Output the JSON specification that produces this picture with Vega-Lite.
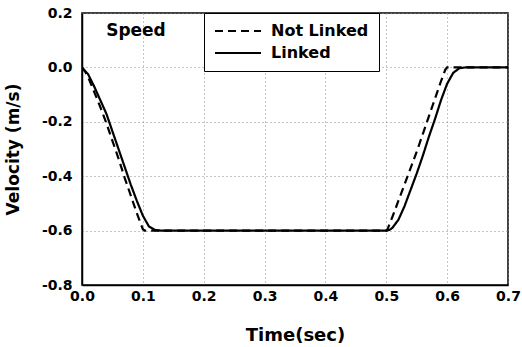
{
  "$schema": "https://vega.github.io/schema/vega-lite/v6.json",
  "width": 426,
  "height": 272,
  "autosize": "none",
  "padding": {"left": 82, "top": 13, "right": 14, "bottom": 62},
  "background": "white",
  "config": {
    "view": {"stroke": "black", "strokeWidth": 1.5},
    "font": "DejaVu Sans"
  },
  "layer": [
    {
      "data": {
        "values": [
          {"t": 0, "v": 0, "series": "Not Linked"},
          {"t": 0.005, "v": -0.015, "series": "Not Linked"},
          {"t": 0.01, "v": -0.035, "series": "Not Linked"},
          {"t": 0.02, "v": -0.09, "series": "Not Linked"},
          {"t": 0.03, "v": -0.145, "series": "Not Linked"},
          {"t": 0.04, "v": -0.205, "series": "Not Linked"},
          {"t": 0.05, "v": -0.27, "series": "Not Linked"},
          {"t": 0.06, "v": -0.335, "series": "Not Linked"},
          {"t": 0.07, "v": -0.405, "series": "Not Linked"},
          {"t": 0.08, "v": -0.47, "series": "Not Linked"},
          {"t": 0.09, "v": -0.535, "series": "Not Linked"},
          {"t": 0.1, "v": -0.595, "series": "Not Linked"},
          {"t": 0.103, "v": -0.6, "series": "Not Linked"},
          {"t": 0.2, "v": -0.6, "series": "Not Linked"},
          {"t": 0.3, "v": -0.6, "series": "Not Linked"},
          {"t": 0.4, "v": -0.6, "series": "Not Linked"},
          {"t": 0.5, "v": -0.6, "series": "Not Linked"},
          {"t": 0.502, "v": -0.595, "series": "Not Linked"},
          {"t": 0.51, "v": -0.55, "series": "Not Linked"},
          {"t": 0.52, "v": -0.49, "series": "Not Linked"},
          {"t": 0.53, "v": -0.43, "series": "Not Linked"},
          {"t": 0.54, "v": -0.37, "series": "Not Linked"},
          {"t": 0.55, "v": -0.31, "series": "Not Linked"},
          {"t": 0.56, "v": -0.245, "series": "Not Linked"},
          {"t": 0.57, "v": -0.18, "series": "Not Linked"},
          {"t": 0.58, "v": -0.115, "series": "Not Linked"},
          {"t": 0.59, "v": -0.05, "series": "Not Linked"},
          {"t": 0.597, "v": -0.008, "series": "Not Linked"},
          {"t": 0.6, "v": 0, "series": "Not Linked"},
          {"t": 0.7, "v": 0, "series": "Not Linked"},
          {"t": 0, "v": 0, "series": "Linked"},
          {"t": 0.01, "v": -0.025, "series": "Linked"},
          {"t": 0.02, "v": -0.07, "series": "Linked"},
          {"t": 0.03, "v": -0.12, "series": "Linked"},
          {"t": 0.04, "v": -0.17, "series": "Linked"},
          {"t": 0.05, "v": -0.235, "series": "Linked"},
          {"t": 0.06, "v": -0.3, "series": "Linked"},
          {"t": 0.07, "v": -0.365, "series": "Linked"},
          {"t": 0.08, "v": -0.43, "series": "Linked"},
          {"t": 0.09, "v": -0.49, "series": "Linked"},
          {"t": 0.1, "v": -0.545, "series": "Linked"},
          {"t": 0.11, "v": -0.585, "series": "Linked"},
          {"t": 0.12, "v": -0.598, "series": "Linked"},
          {"t": 0.13, "v": -0.6, "series": "Linked"},
          {"t": 0.2, "v": -0.6, "series": "Linked"},
          {"t": 0.3, "v": -0.6, "series": "Linked"},
          {"t": 0.4, "v": -0.6, "series": "Linked"},
          {"t": 0.5, "v": -0.6, "series": "Linked"},
          {"t": 0.505, "v": -0.598, "series": "Linked"},
          {"t": 0.51, "v": -0.59, "series": "Linked"},
          {"t": 0.52, "v": -0.56, "series": "Linked"},
          {"t": 0.53, "v": -0.51, "series": "Linked"},
          {"t": 0.54, "v": -0.45, "series": "Linked"},
          {"t": 0.55, "v": -0.39, "series": "Linked"},
          {"t": 0.56, "v": -0.325, "series": "Linked"},
          {"t": 0.57, "v": -0.255, "series": "Linked"},
          {"t": 0.58, "v": -0.19, "series": "Linked"},
          {"t": 0.59, "v": -0.12, "series": "Linked"},
          {"t": 0.6, "v": -0.06, "series": "Linked"},
          {"t": 0.61, "v": -0.02, "series": "Linked"},
          {"t": 0.62, "v": -0.003, "series": "Linked"},
          {"t": 0.63, "v": 0, "series": "Linked"},
          {"t": 0.7, "v": 0, "series": "Linked"}
        ]
      },
      "mark": {"type": "line", "color": "black", "strokeWidth": 2.2, "clip": true},
      "encoding": {
        "x": {
          "field": "t",
          "type": "quantitative",
          "scale": {"domain": [0, 0.7], "nice": false, "zero": false},
          "axis": {
            "values": [0, 0.1, 0.2, 0.3, 0.4, 0.5, 0.6, 0.7],
            "format": ".1f",
            "labelFont": "DejaVu Sans",
            "labelFontWeight": "bold",
            "labelFontSize": 14,
            "labelColor": "black",
            "labelPadding": 4,
            "labelFlush": false,
            "ticks": false,
            "domainColor": "black",
            "domainWidth": 1.5,
            "grid": true,
            "gridDash": [1, 3],
            "gridColor": "#888888",
            "gridWidth": 1,
            "title": "Time(sec)",
            "titleFont": "DejaVu Sans",
            "titleFontSize": 18,
            "titleFontWeight": "bold",
            "titleColor": "black",
            "titleY": 55,
            "titleBaseline": "alphabetic"
          }
        },
        "y": {
          "field": "v",
          "type": "quantitative",
          "scale": {"domain": [-0.8, 0.2], "nice": false, "zero": false},
          "axis": {
            "values": [-0.8, -0.6, -0.4, -0.2, 0, 0.2],
            "labelExpr": "replace(format(datum.value, '.1f'), '\u2212', '-')",
            "labelFont": "DejaVu Sans",
            "labelFontWeight": "bold",
            "labelFontSize": 14,
            "labelColor": "black",
            "labelPadding": 10,
            "labelFlush": false,
            "ticks": false,
            "domainColor": "black",
            "domainWidth": 1.5,
            "grid": true,
            "gridDash": [1, 3],
            "gridColor": "#888888",
            "gridWidth": 1,
            "title": "Velocity (m/s)",
            "titleFont": "DejaVu Sans",
            "titleFontSize": 17,
            "titleFontWeight": "bold",
            "titleColor": "black",
            "titleX": -69,
            "titleY": 136,
            "titleAlign": "center",
            "titleBaseline": "middle"
          }
        },
        "strokeDash": {
          "field": "series",
          "type": "nominal",
          "scale": {"domain": ["Not Linked", "Linked"], "range": [[8, 5], [1, 0]]},
          "legend": {
            "title": null,
            "orient": "none",
            "legendX": 122,
            "legendY": 0,
            "direction": "vertical",
            "symbolType": "stroke",
            "symbolSize": 2116,
            "symbolStrokeWidth": 2,
            "symbolStrokeColor": "black",
            "clipHeight": 16,
            "rowPadding": 6,
            "padding": 10,
            "labelOffset": 9,
            "labelFont": "DejaVu Sans",
            "labelFontWeight": "bold",
            "labelFontSize": 16,
            "labelColor": "black",
            "strokeColor": "black",
            "fillColor": "white"
          }
        }
      }
    },
    {
      "data": {"values": [{"t": 0.0887, "v": 0.132, "label": "Speed"}]},
      "mark": {"type": "text", "font": "DejaVu Sans", "fontWeight": "bold", "fontSize": 17, "color": "black"},
      "encoding": {
        "x": {"field": "t", "type": "quantitative"},
        "y": {"field": "v", "type": "quantitative"},
        "text": {"field": "label"}
      }
    }
  ]
}
